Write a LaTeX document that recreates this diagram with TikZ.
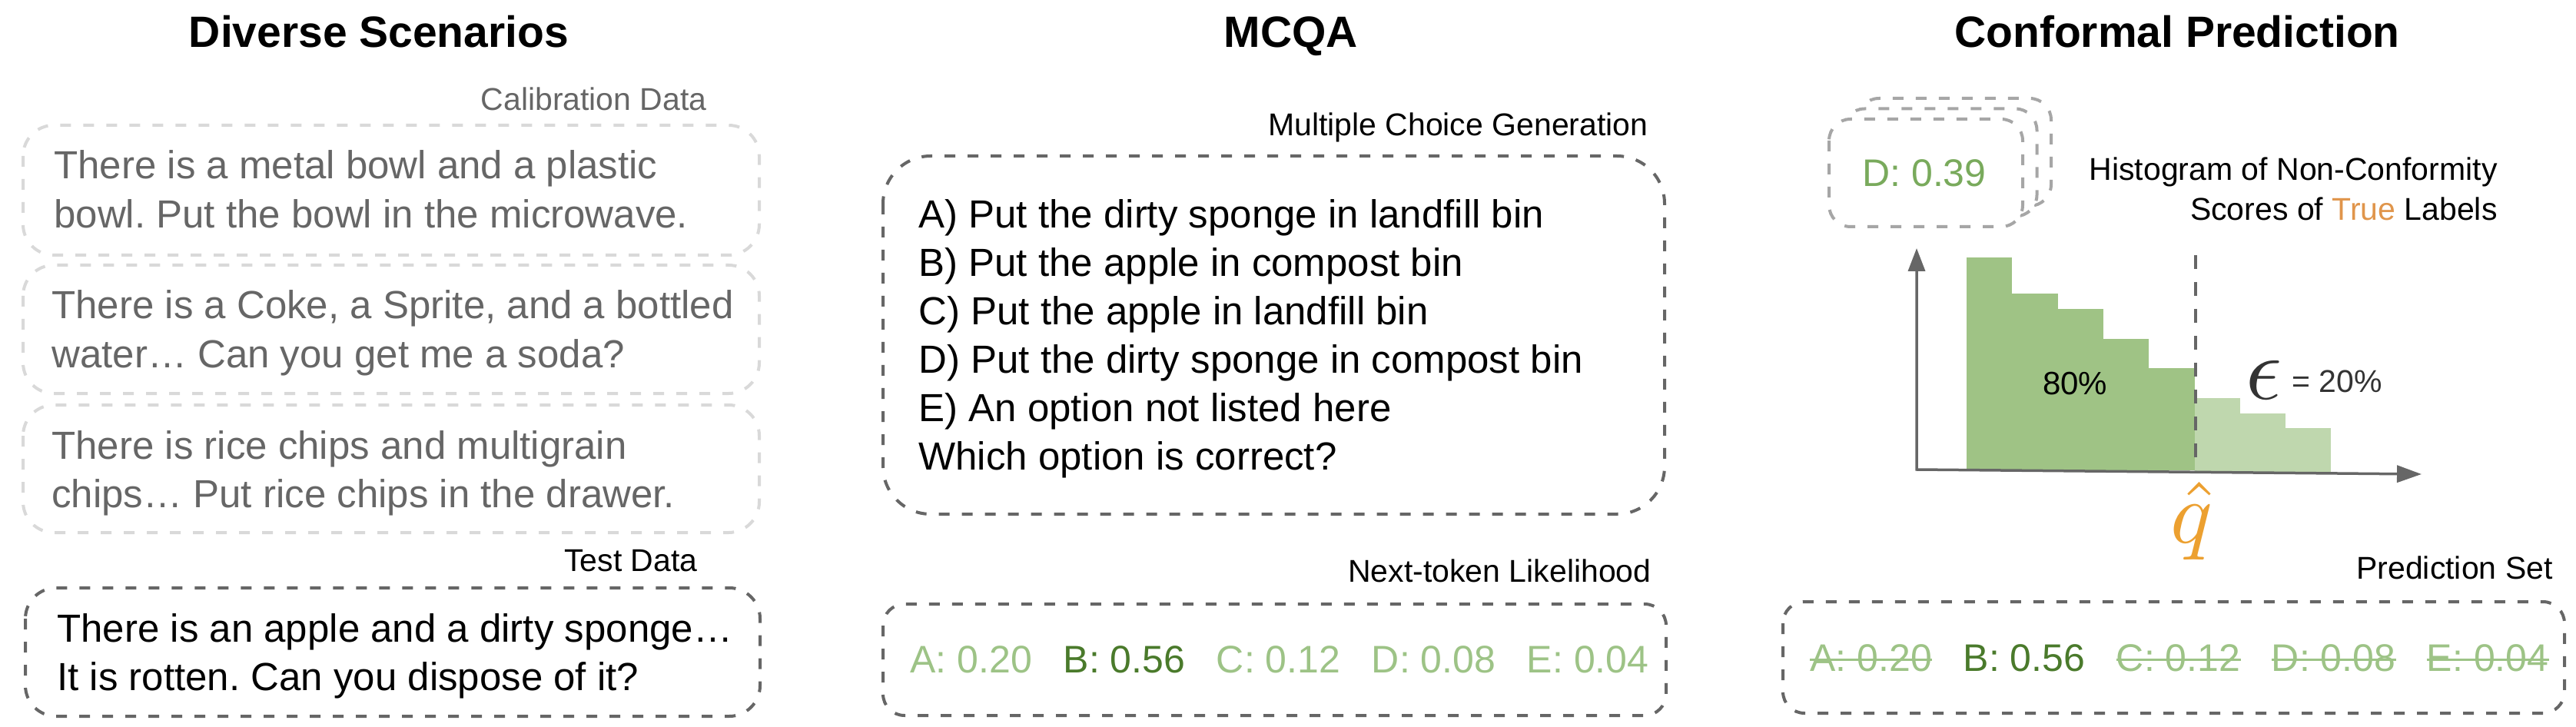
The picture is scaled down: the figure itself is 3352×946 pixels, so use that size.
\documentclass[tikz,border=0pt]{standalone}
\usepackage{fontspec}
\setmainfont{Liberation Sans}
\usetikzlibrary{arrows.meta,positioning}
\definecolor{faintgray}{HTML}{D9D9D9}
\definecolor{calibgray}{HTML}{666666}
\definecolor{boxgray}{HTML}{666666}
\definecolor{stackgray}{HTML}{A6A6A6}
\definecolor{lightgreen}{HTML}{9DC386}
\definecolor{darkgreen}{HTML}{4A7A2B}
\definecolor{midgreen}{HTML}{79AA5C}
\definecolor{bargreen}{HTML}{9FC385}
\definecolor{barpale}{HTML}{BFD7AE}
\definecolor{truecol}{HTML}{E0954B}
\definecolor{qcol}{HTML}{ECA030}
\definecolor{epsgray}{HTML}{333333}
\newcommand{\twolines}[2]{\begin{tabular}[t]{@{}l@{}}#1\\#2\end{tabular}}
\frenchspacing
\begin{document}
\begin{tikzpicture}[x=0.5pt,y=-0.5pt,
  heading/.style={font=\bfseries\fontsize{28.5}{34}\selectfont,inner sep=0,anchor=base},
  tag/.style={font=\fontsize{20.5}{26}\selectfont,inner sep=0,anchor=base east},
  body/.style={font=\fontsize{25.5}{31.75}\selectfont,inner sep=0,anchor=base west},
  score/.style={font=\fontsize{25}{30}\selectfont,inner sep=0},
  dashbox/.style={line width=2pt,dash pattern=on 7pt off 8pt,rounded corners=#1},
  struck/.style={line width=1.5pt,lightgreen}]
\useasboundingbox (0,0) rectangle (3352,946);
\node[heading] (hdiv) at (493,62) {Diverse Scenarios};
\node[heading] (hmcqa) at (1680,62) {MCQA};
\node[heading] (hcp) at (2833,62) {Conformal Prediction};

\node[tag,text=calibgray] (lcalib) at (920,144) {Calibration Data};
\draw[dashbox=20pt,faintgray] (30,163) rectangle (988,332);
\draw[dashbox=20pt,faintgray] (30,345) rectangle (988,512);
\draw[dashbox=20pt,faintgray] (30,527) rectangle (988,693);
\node[body,text=calibgray] (calib1) at (70,233) {\twolines{There is a metal bowl and a plastic}{bowl. Put the bowl in the microwave.}};
\node[body,text=calibgray] (calib2) at (67,415) {\twolines{There is a Coke, a Sprite, and a bottled}{water… Can you get me a soda?}};
\node[body,text=calibgray] (calib3) at (67,597) {\twolines{There is rice chips and multigrain}{chips… Put rice chips in the drawer.}};
\node[tag] (ltest) at (908,743) {Test Data};
\draw[dashbox=20pt,boxgray] (33,765) rectangle (989,932);
\node[body] (test) at (74,835) {\twolines{There is an apple and a dirty sponge…}{It is rotten. Can you dispose of it?}};

\node[tag] (lgen) at (2145,177) {Multiple Choice Generation};
\draw[dashbox=31pt,boxgray] (1149,203) rectangle (2166,669);
\node[body,font=\fontsize{25.5}{31.5}\selectfont] (opts) at (1195,297) {\begin{tabular}[t]{@{}l@{}}
A) Put the dirty sponge in landfill bin\\
B) Put the apple in compost bin\\
C) Put the apple in landfill bin\\
D) Put the dirty sponge in compost bin\\
E) An option not listed here\\
Which option is correct?\end{tabular}};
\node[tag] (llike) at (2149,757) {Next-token Likelihood};
\draw[dashbox=14pt,boxgray] (1149,786) rectangle (2168,931);
\node[score,anchor=base west,text=lightgreen] (la) at (1184,875) {A: 0.20};
\node[score,base right=20pt of la,text=darkgreen] (lb) {B: 0.56};
\node[score,base right=20pt of lb,text=lightgreen] (lc) {C: 0.12};
\node[score,base right=20pt of lc,text=lightgreen] (ld) {D: 0.08};
\node[score,base right=20pt of ld,text=lightgreen] (le) {E: 0.04};

\foreach \d in {2,1,0}
  \filldraw[dashbox=14pt,stackgray,fill=white] ({2380+18.5*\d},{155-13.5*\d}) rectangle ++(252,140);
\node[score,anchor=base,text=midgreen] (dval) at (2504,243) {D: 0.39};
\node[tag] (lhist) at (3250,235) {\begin{tabular}[t]{@{}r@{}}Histogram of Non-Conformity\\Scores of \textcolor{truecol}{True} Labels\end{tabular}};
\foreach \i/\t in {0/335,1/382,2/402,3/441,4/479}
  \fill[bargreen] ({2559+59.3*\i},\t) rectangle ({2618.3+59.3*\i},612);
\foreach \i/\t in {5/518,6/538,7/557}
  \fill[barpale] ({2559+59.3*\i},\t) rectangle ({2618.3+59.3*\i},614);
\draw[line width=2pt,boxgray,dash pattern=on 9pt off 8.5pt] (2857,332) -- (2857,612);
\draw[line width=1.75pt,boxgray,{Triangle[length=15pt,width=11pt]}-{Triangle[length=16pt,width=11pt]}] (2494,323) -- (2494,611) -- (3151,617);
\node[font=\fontsize{21}{25}\selectfont,inner sep=0,anchor=base] (pct) at (2700,513) {80\%};
\node[inner sep=0,anchor=base west,text=epsgray] (eps) at (2922,519) {\scalebox{5.8}{$\epsilon$}};
\node[font=\fontsize{20.5}{25}\selectfont,inner sep=0,anchor=base west,text=epsgray] (epsval) at (2982,510) {= 20\%};
\node[inner sep=0,anchor=base,text=qcol] (qhat) at (2852,706) {\scalebox{5.7}{$\hat{q}$}};

\node[tag] (lpred) at (3322,753) {Prediction Set};
\draw[dashbox=14pt,boxgray] (2320,783) rectangle (3337,928);
\node[score,anchor=base west,text=lightgreen] (pa) at (2355,873) {A: 0.20};
\node[score,base right=20pt of pa,text=darkgreen] (pb) {B: 0.56};
\node[score,base right=20pt of pb,text=lightgreen] (pc) {C: 0.12};
\node[score,base right=20pt of pc,text=lightgreen] (pd) {D: 0.08};
\node[score,base right=20pt of pd,text=lightgreen] (pe) {E: 0.04};
\foreach \n in {pa,pc,pd,pe}
  \draw[struck] ([yshift=-1.5pt]\n.west) -- ([yshift=-1.5pt]\n.east);
\end{tikzpicture}
\end{document}
